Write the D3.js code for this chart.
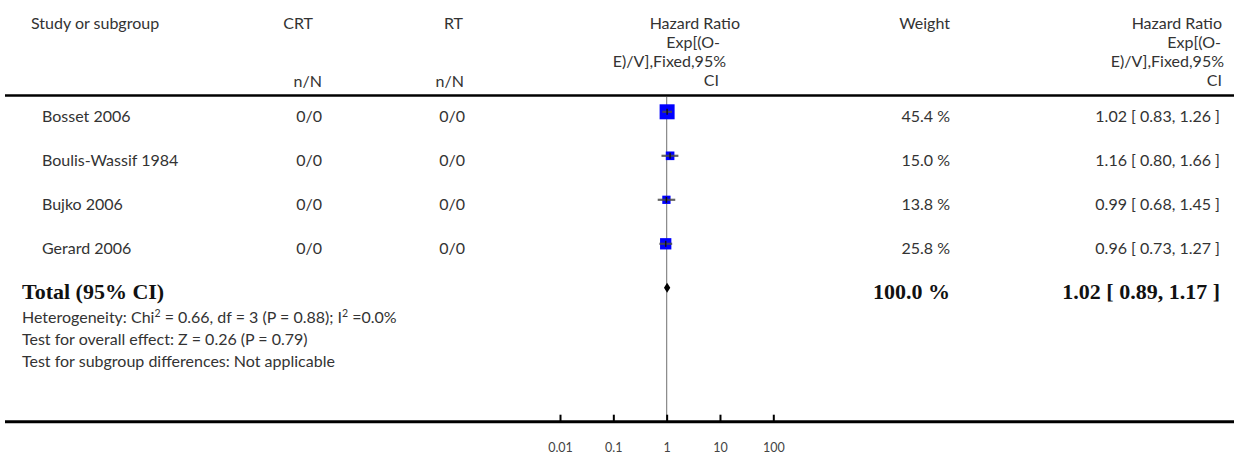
<!DOCTYPE html>
<html>
<head>
<meta charset="utf-8">
<script src="https://cdn.jsdelivr.net/npm/d3@7"></script>
<style>
  html, body { margin: 0; padding: 0; background: #fff; }
  svg { display: block; }
  .t { font-family: Lato, "Open Sans", sans-serif; font-size: 16px; fill: #333; }
  .f { font-family: Lato, "Open Sans", sans-serif; font-size: 16px; fill: #333; }
  .b { font-family: "Liberation Serif", "Times New Roman", serif; font-weight: bold; font-size: 22px; fill: #111; }
  .tick text { font-family: Lato, sans-serif; font-size: 12.5px; fill: #444; }
</style>
</head>
<body>
<svg id="chart" width="1234" height="454"></svg>
<script>
// ---- data ----
const studies = ["Bosset 2006", "Boulis-Wassif 1984", "Bujko 2006", "Gerard 2006"];
const crtCounts = ["0/0", "0/0", "0/0", "0/0"];
const rtCounts = ["0/0", "0/0", "0/0", "0/0"];
const hazardRatios = [1.02, 1.16, 0.99, 0.96];
const ciLower = [0.83, 0.80, 0.68, 0.73];
const ciUpper = [1.26, 1.66, 1.45, 1.27];
const weights = [45.4, 15.0, 13.8, 25.8];
const totalEstimate = [1.02, 0.89, 1.17];   // HR, lower, upper
const totalWeight = 100.0;
const tickValues = [0.01, 0.1, 1, 10, 100];
const tickLabels = ["0.01", "0.1", "1", "10", "100"];
const footLines = [
  ["Heterogeneity: Chi", "2", " = 0.66, df = 3 (P = 0.88); I", "2", " =0.0%"],
  ["Test for overall effect: Z = 0.26 (P = 0.79)"],
  ["Test for subgroup differences: Not applicable"]
];

const svg = d3.select("#chart");
const W = 1234;

// scales
const x = d3.scaleLog().domain([0.01, 100]).range([560, 773.3]);
const rowKeys = studies.concat(["Total"]);
const y = d3.scalePoint().domain(rowKeys).range([111.8, 287.8]);
const size = d3.scaleSqrt().domain([0, d3.max(weights)]).range([0, 15]);
const fmt2 = d3.format(".2f");
const fmt1 = d3.format(".1f");

// header
const hdr = svg.append("g");
hdr.append("text").attr("class", "t").attr("x", 31).attr("y", 29).text("Study or subgroup");
hdr.append("text").attr("class", "t").attr("x", 313).attr("y", 29).attr("text-anchor", "end").text("CRT");
hdr.append("text").attr("class", "t").attr("x", 463).attr("y", 29).attr("text-anchor", "end").text("RT");
hdr.append("text").attr("class", "t").attr("x", 322).attr("y", 87).attr("text-anchor", "end").text("n/N");
hdr.append("text").attr("class", "t").attr("x", 464).attr("y", 87).attr("text-anchor", "end").text("n/N");
const hrHead = ["Hazard Ratio", "Exp[(O-", "E)/V],Fixed,95%", "CI"];
const hrHeadEndsMid = [740, 720, 726, 719];
const hrHeadEndsRight = [1222, 1221, 1224, 1222];
const hrHeadY = [29, 48, 67, 86];
hrHead.forEach((s, i) => {
  hdr.append("text").attr("class", "t").attr("x", hrHeadEndsMid[i]).attr("y", hrHeadY[i]).attr("text-anchor", "end").text(s);
  hdr.append("text").attr("class", "t").attr("x", hrHeadEndsRight[i]).attr("y", hrHeadY[i]).attr("text-anchor", "end").text(s);
});
hdr.append("text").attr("class", "t").attr("x", 950).attr("y", 29).attr("text-anchor", "end").text("Weight");

// top rule
svg.append("line").attr("x1", 5).attr("x2", W).attr("y1", 95.5).attr("y2", 95.5)
  .attr("stroke", "#000").attr("stroke-width", 2.6);

// vertical line of no effect
svg.append("line").attr("x1", x(1)).attr("x2", x(1)).attr("y1", 97).attr("y2", 421)
  .attr("stroke", "#888").attr("stroke-width", 1.2);

// study rows
const rows = svg.append("g").selectAll("g").data(studies).join("g");
rows.append("text").attr("class", "t").attr("x", 42).attr("y", d => y(d) + 10.5).text(d => d);
rows.append("text").attr("class", "t").attr("x", 322).attr("y", d => y(d) + 10.5).attr("text-anchor", "end").text((d, i) => crtCounts[i]);
rows.append("text").attr("class", "t").attr("x", 465).attr("y", d => y(d) + 10.5).attr("text-anchor", "end").text((d, i) => rtCounts[i]);
rows.append("text").attr("class", "t").attr("x", 950).attr("y", d => y(d) + 10.5).attr("text-anchor", "end")
  .text((d, i) => fmt1(weights[i]) + " %");
rows.append("text").attr("class", "t").attr("x", 1220).attr("y", d => y(d) + 10.5).attr("text-anchor", "end")
  .text((d, i) => fmt2(hazardRatios[i]) + " [ " + fmt2(ciLower[i]) + ", " + fmt2(ciUpper[i]) + " ]");
rows.append("rect")
  .attr("x", (d, i) => x(hazardRatios[i]) - size(weights[i]) / 2)
  .attr("y", (d, i) => y(d) - size(weights[i]) / 2)
  .attr("width", (d, i) => size(weights[i]))
  .attr("height", (d, i) => size(weights[i]))
  .attr("fill", "#0000ff");
rows.append("line")
  .attr("x1", (d, i) => x(ciLower[i])).attr("x2", (d, i) => x(ciUpper[i]))
  .attr("y1", d => y(d)).attr("y2", d => y(d))
  .attr("stroke", "#4a4a4a").attr("stroke-width", 2.2).attr("stroke-opacity", 0.85);
rows.append("line")
  .attr("x1", (d, i) => x(hazardRatios[i])).attr("x2", (d, i) => x(hazardRatios[i]))
  .attr("y1", d => y(d) - 3).attr("y2", d => y(d) + 3)
  .attr("stroke", "#111").attr("stroke-width", 1.5);

// total row
const ty = y("Total");
svg.append("text").attr("class", "b").attr("x", 22).attr("y", ty + 11).text("Total (95% CI)");
svg.append("text").attr("class", "b").attr("x", 950).attr("y", ty + 11).attr("text-anchor", "end")
  .text(fmt1(totalWeight) + " %");
svg.append("text").attr("class", "b").attr("x", 1220).attr("y", ty + 11).attr("text-anchor", "end")
  .text(fmt2(totalEstimate[0]) + " [ " + fmt2(totalEstimate[1]) + ", " + fmt2(totalEstimate[2]) + " ]");
const dh = 5;
svg.append("path")
  .attr("d", `M${x(totalEstimate[1])},${ty} L${x(totalEstimate[0])},${ty - dh} L${x(totalEstimate[2])},${ty} L${x(totalEstimate[0])},${ty + dh} Z`)
  .attr("fill", "#000");

// footnotes
const footY = [323, 345, 367];
footLines.forEach((parts, i) => {
  const t = svg.append("text").attr("class", "f").attr("x", 22).attr("y", footY[i]);
  parts.forEach((p, j) => {
    if (j % 2 === 1) {
      t.append("tspan").attr("dy", -6).attr("font-size", "10.5px").text(p);
    } else {
      const ts = t.append("tspan").text(p);
      if (j > 0) ts.attr("dy", 6);
    }
  });
});

// axis
svg.append("line").attr("x1", 5).attr("x2", W).attr("y1", 421.7).attr("y2", 421.7)
  .attr("stroke", "#000").attr("stroke-width", 3);
const axis = d3.axisBottom(x).tickValues(tickValues)
  .tickFormat((d, i) => tickLabels[i])
  .tickSizeInner(-7).tickSizeOuter(0).tickPadding(21.5);
const ag = svg.append("g").attr("transform", "translate(0,421.7)").call(axis);
ag.select(".domain").remove();
ag.selectAll(".tick line").attr("stroke", "#000").attr("stroke-width", 2);
ag.selectAll(".tick text").attr("fill", "#444");
</script>
</body>
</html>
